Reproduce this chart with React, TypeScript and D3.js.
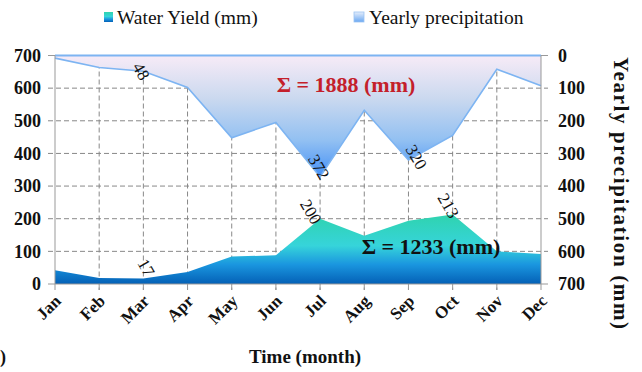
import React from "react";
import * as d3 from "d3";

const months = ["Jan", "Feb", "Mar", "Apr", "May", "Jun", "Jul", "Aug", "Sep", "Oct", "Nov", "Dec"];
const precipitation = [8, 37, 48, 98, 252, 205, 372, 168, 320, 245, 42, 93];
const waterYield = [42, 18, 17, 37, 84, 88, 200, 148, 194, 213, 100, 92];
const leftTicks = [0, 100, 200, 300, 400, 500, 600, 700];
const rightTicks = [0, 100, 200, 300, 400, 500, 600, 700];
const precipLabels = [{ m: "Mar", v: 48 }, { m: "Jul", v: 372 }, { m: "Sep", v: 320 }];
const yieldLabels = [{ m: "Mar", v: 17 }, { m: "Jul", v: 200 }, { m: "Oct", v: 213 }];
const precipSumText = "Σ = 1888 (mm)";
const yieldSumText = "Σ = 1233 (mm)";

const W = 642, H = 372;
const X0 = 55, X1 = 541, YT = 55.5, YB = 284;
const serif = "'Liberation Serif', 'Times New Roman', serif";

export default function App() {
  const x = d3.scalePoint<string>().domain(months).range([X0, X1]);
  const yL = d3.scaleLinear().domain([0, 700]).range([YB, YT]);
  const yR = d3.scaleLinear().domain([0, 700]).range([YT, YB]);

  const precipArea = d3.area<number>()
    .x((_, i) => x(months[i])!)
    .y0(yR(0))
    .y1((d) => yR(d));
  const precipLine = d3.line<number>()
    .x((_, i) => x(months[i])!)
    .y((d) => yR(d));
  const yieldArea = d3.area<number>()
    .x((_, i) => x(months[i])!)
    .y0(yL(0))
    .y1((d) => yL(d));

  const precipOffsets: Record<string, [number, number]> = { Mar: [-2, 0], Jul: [-1, -10], Sep: [8, -3] };
  const yieldOffsets: Record<string, [number, number]> = { Mar: [3, -11], Jul: [-9, -7], Oct: [-4, -9] };

  return (
    <svg width={W} height={H} style={{ position: "absolute", left: 0, top: 0, background: "#fff" }} fontFamily={serif}>
      <defs>
        <linearGradient id="gPrecip" x1="0" y1="0" x2="0" y2="1">
          <stop offset="0" stopColor="#f7ebf7" />
          <stop offset="0.35" stopColor="#cbd9ef" />
          <stop offset="0.7" stopColor="#92c0f2" />
          <stop offset="1" stopColor="#4490f6" />
        </linearGradient>
        <linearGradient id="gYield" x1="0" y1="0" x2="0" y2="1">
          <stop offset="0" stopColor="#2fd3ae" />
          <stop offset="0.45" stopColor="#36d4da" />
          <stop offset="0.72" stopColor="#1a96df" />
          <stop offset="1" stopColor="#0460b6" />
        </linearGradient>
        <linearGradient id="gLegP" x1="0" y1="0" x2="0" y2="1">
          <stop offset="0" stopColor="#e6eefb" />
          <stop offset="1" stopColor="#6aa8f2" />
        </linearGradient>
      </defs>

      {/* legend */}
      <rect x={104} y={12} width={9} height={10} fill="url(#gYield)" />
      <text x={117} y={24} fontSize={19.5} fill="#111">Water Yield (mm)</text>
      <rect x={354} y={12} width={10} height={10} fill="url(#gLegP)" stroke="#9cc4f2" strokeWidth={0.8} />
      <text x={369} y={24} fontSize={19.5} fill="#111">Yearly precipitation</text>

      {/* horizontal grid */}
      {leftTicks.filter((t) => t > 0 && t < 700).map((t) => (
        <line key={"h" + t} x1={X0 - 7} x2={X1 + 7} y1={yL(t)} y2={yL(t)} stroke="#888" strokeDasharray="5,3" strokeWidth={1} />
      ))}
      {/* vertical grid */}
      {months.slice(1, 11).map((m) => (
        <line key={"v" + m} x1={x(m)} x2={x(m)} y1={YT} y2={YB + 6} stroke="#888" strokeDasharray="5,3" strokeWidth={1} />
      ))}
      <line x1={X0 - 7} x2={X1 + 7} y1={YT} y2={YT} stroke="#999" />

      {/* precipitation area */}
      <path d={precipArea(precipitation)!} fill="url(#gPrecip)" />
      <path d={precipLine(precipitation)!} fill="none" stroke="#7db4f2" strokeWidth={1.6} />
      <line x1={X0} x2={X1} y1={YT} y2={YT} stroke="#7db4f2" strokeWidth={2} />

      {/* water yield area */}
      <path d={yieldArea(waterYield)!} fill="url(#gYield)" />

      {/* axes */}
      <line x1={X0} x2={X0} y1={YT} y2={YB} stroke="#999" />
      <line x1={X1} x2={X1} y1={YT} y2={YB} stroke="#999" />
      <line x1={X0 - 7} x2={X1 + 7} y1={YB} y2={YB} stroke="#999" />
      {months.map((m) => (
        <line key={"t" + m} x1={x(m)} x2={x(m)} y1={YB} y2={YB + 6} stroke="#999" />
      ))}

      {/* left tick labels */}
      {leftTicks.map((t) => (
        <text key={"l" + t} x={41} y={yL(t)} dy="0.35em" textAnchor="end" fontSize={18} fontWeight="bold" fill="#111">{t}</text>
      ))}
      {/* right tick labels */}
      {rightTicks.map((t) => (
        <text key={"r" + t} x={558} y={yR(t)} dy="0.35em" textAnchor="start" fontSize={18} fontWeight="bold" fill="#111">{t}</text>
      ))}
      <text transform={`translate(614,57) rotate(90)`} textAnchor="start" fontSize={21} fontWeight="bold" fill="#111" textLength={272} lengthAdjust="spacing">Yearly precipitation (mm)</text>

      {/* x labels */}
      {months.map((m) => (
        <text key={"x" + m} transform={`translate(${x(m)! + 7},${YB + 18}) rotate(-45)`} textAnchor="end" fontSize={17} fontWeight="bold" fill="#111">{m}</text>
      ))}
      <text x={305} y={363} textAnchor="middle" fontSize={19} fontWeight="bold" fill="#111">Time (month)</text>
      <text x={0} y={363} textAnchor="start" fontSize={18} fontWeight="bold" fill="#111">)</text>

      {/* data labels */}
      {precipLabels.map((d) => {
        const o = precipOffsets[d.m];
        return (
          <text key={"pl" + d.m} transform={`translate(${x(d.m)! + o[0]},${yR(d.v) + o[1]}) rotate(60)`} textAnchor="middle" dy="0.35em" fontSize={17} fill="#111">{d.v}</text>
        );
      })}
      {yieldLabels.map((d) => {
        const o = yieldOffsets[d.m];
        return (
          <text key={"yl" + d.m} transform={`translate(${x(d.m)! + o[0]},${yL(d.v) + o[1]}) rotate(60)`} textAnchor="middle" dy="0.35em" fontSize={17} fill="#111">{d.v}</text>
        );
      })}

      <text x={346} y={92} textAnchor="middle" fontSize={22} fontWeight="bold" fill="#c41f2b">{precipSumText}</text>
      <text x={431} y={254} textAnchor="middle" fontSize={22} fontWeight="bold" fill="#111">{yieldSumText}</text>
    </svg>
  );
}
